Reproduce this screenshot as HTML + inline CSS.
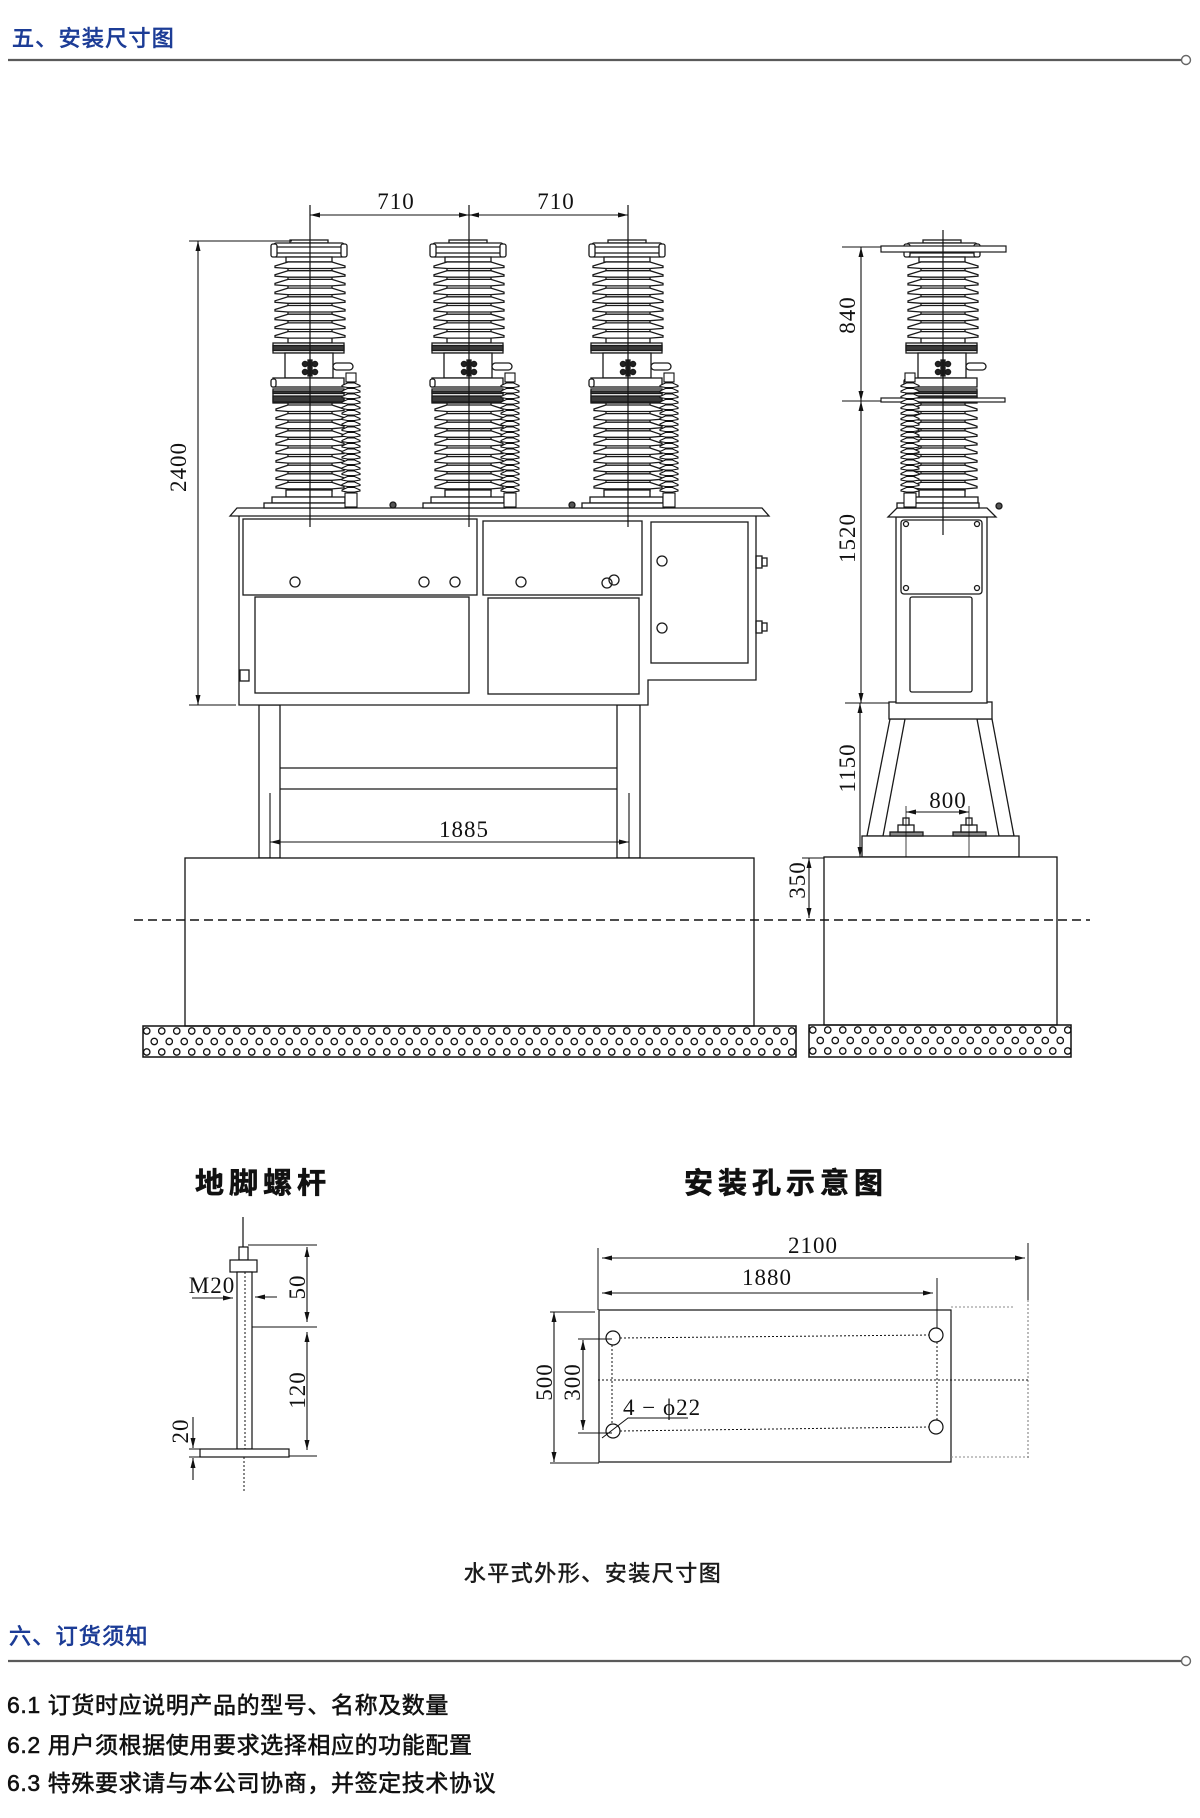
<!DOCTYPE html>
<html><head><meta charset="utf-8"><style>
html,body{margin:0;padding:0;background:#fff;}
svg{display:block;}
.d{font-family:"Liberation Serif",serif;font-size:23px;fill:#111;letter-spacing:1px;}
.c{font-family:"Liberation Sans","Noto Sans CJK SC",sans-serif;}
</style></head><body>
<svg width="1200" height="1818" viewBox="0 0 1200 1818" xmlns="http://www.w3.org/2000/svg" xmlns:xlink="http://www.w3.org/1999/xlink">
<defs>
<marker id="ar" viewBox="0 0 10 5" refX="10" refY="2.5" markerWidth="10" markerHeight="5" orient="auto-start-reverse" markerUnits="userSpaceOnUse"><path d="M0,0 L10,2.5 L0,5 z" fill="#111"/></marker>
<pattern id="hf" x="143" y="1026" width="15" height="21" patternUnits="userSpaceOnUse"><circle cx="3.75" cy="5" r="3.2" fill="none" stroke="#111" stroke-width="1.3"/><circle cx="11.25" cy="15.5" r="3.2" fill="none" stroke="#111" stroke-width="1.3"/></pattern>
<pattern id="hs" x="809" y="1025" width="15" height="21" patternUnits="userSpaceOnUse"><circle cx="3.75" cy="5" r="3.2" fill="none" stroke="#111" stroke-width="1.3"/><circle cx="11.25" cy="15.5" r="3.2" fill="none" stroke="#111" stroke-width="1.3"/></pattern>
<g id="ins" stroke="#1a1a1a" stroke-width="1.3" fill="#fff">
 <rect x="-20" y="240" width="38" height="3"/>
 <rect x="-36" y="243" width="70" height="14" rx="2"/>
 <line x1="-36" y1="247" x2="34" y2="247"/>
 <line x1="-36" y1="253" x2="34" y2="253"/>
 <rect x="-39" y="244" width="6" height="13" rx="2"/>
 <rect x="31" y="244" width="6" height="13" rx="2"/>
 <rect x="-24" y="257" width="46" height="5"/>
 <rect x="-22" y="262" width="44" height="81"/>
 <path d="M-22 262L-35 266L-35 267.5L-22 268.5H22L35 267.5L35 266L22 262Z M-22 270.7L-35 274.7L-35 276.2L-22 277.2H22L35 276.2L35 274.7L22 270.7Z M-22 279.4L-35 283.4L-35 284.9L-22 285.9H22L35 284.9L35 283.4L22 279.4Z M-22 288.1L-35 292.1L-35 293.6L-22 294.6H22L35 293.6L35 292.1L22 288.1Z M-22 296.8L-35 300.8L-35 302.3L-22 303.3H22L35 302.3L35 300.8L22 296.8Z M-22 305.5L-35 309.5L-35 311L-22 312H22L35 311L35 309.5L22 305.5Z M-22 314.2L-35 318.2L-35 319.7L-22 320.7H22L35 319.7L35 318.2L22 314.2Z M-22 322.9L-35 326.9L-35 328.4L-22 329.4H22L35 328.4L35 326.9L22 322.9Z M-22 331.6L-35 335.6L-35 337.1L-22 338.1H22L35 337.1L35 335.6L22 331.6Z"/>
 <rect x="-37" y="343" width="71" height="10"/>
 <rect x="-37" y="345.5" width="71" height="5" fill="#3a3a3a"/>
 <rect x="-25" y="353" width="48" height="25"/>
 <rect x="-2" y="360" width="4" height="16" fill="#222"/>
 <circle cx="-5" cy="364" r="2.6" fill="#222"/><circle cx="5" cy="364" r="2.6" fill="#222"/>
 <circle cx="-5" cy="372" r="2.6" fill="#222"/><circle cx="5" cy="372" r="2.6" fill="#222"/>
 <rect x="23" y="363" width="20" height="7" rx="3.5"/>
 <rect x="-37" y="378" width="71" height="9"/>
 <rect x="-39" y="379" width="5" height="8" rx="2"/>
 <rect x="-37" y="389" width="71" height="14"/>
 <rect x="-37" y="391" width="71" height="2.5" fill="#3a3a3a"/>
 <rect x="-37" y="396" width="71" height="6" fill="#3a3a3a"/>
 <rect x="-22" y="403" width="44" height="88"/>
 <path d="M-22 405L-34 409L-34 410.5L-22 411.5H22L34 410.5L34 409L22 405Z M-22 413.6L-34 417.6L-34 419.1L-22 420.1H22L34 419.1L34 417.6L22 413.6Z M-22 422.2L-34 426.2L-34 427.7L-22 428.7H22L34 427.7L34 426.2L22 422.2Z M-22 430.8L-34 434.8L-34 436.3L-22 437.3H22L34 436.3L34 434.8L22 430.8Z M-22 439.4L-34 443.4L-34 444.9L-22 445.9H22L34 444.9L34 443.4L22 439.4Z M-22 448L-34 452L-34 453.5L-22 454.5H22L34 453.5L34 452L22 448Z M-22 456.6L-34 460.6L-34 462.1L-22 463.1H22L34 462.1L34 460.6L22 456.6Z M-22 465.2L-34 469.2L-34 470.7L-22 471.7H22L34 470.7L34 469.2L22 465.2Z M-22 473.8L-34 477.8L-34 479.3L-22 480.3H22L34 479.3L34 477.8L22 473.8Z M-22 482.4L-34 486.4L-34 487.9L-22 488.9H22L34 487.9L34 486.4L22 482.4Z"/>
 <rect x="-24" y="490" width="46" height="7"/>
 <rect x="-38" y="497" width="73" height="6"/>
 <rect x="-46" y="503" width="82" height="5"/>
</g>
<g id="arr" stroke="#111" stroke-width="1.1" fill="#fff">
 <rect x="-5" y="373" width="10" height="9"/>
 <rect x="-3.5" y="382" width="7" height="111"/>
 <path d="M-3.5 383L-9 385.5L-9 386.5L-3.5 387.5H3.5L9 386.5L9 385.5L3.5 383Z M-3.5 388.5L-9 391L-9 392L-3.5 393H3.5L9 392L9 391L3.5 388.5Z M-3.5 394L-9 396.5L-9 397.5L-3.5 398.5H3.5L9 397.5L9 396.5L3.5 394Z M-3.5 399.5L-9 402L-9 403L-3.5 404H3.5L9 403L9 402L3.5 399.5Z M-3.5 405L-9 407.5L-9 408.5L-3.5 409.5H3.5L9 408.5L9 407.5L3.5 405Z M-3.5 410.5L-9 413L-9 414L-3.5 415H3.5L9 414L9 413L3.5 410.5Z M-3.5 416L-9 418.5L-9 419.5L-3.5 420.5H3.5L9 419.5L9 418.5L3.5 416Z M-3.5 421.5L-9 424L-9 425L-3.5 426H3.5L9 425L9 424L3.5 421.5Z M-3.5 427L-9 429.5L-9 430.5L-3.5 431.5H3.5L9 430.5L9 429.5L3.5 427Z M-3.5 432.5L-9 435L-9 436L-3.5 437H3.5L9 436L9 435L3.5 432.5Z M-3.5 438L-9 440.5L-9 441.5L-3.5 442.5H3.5L9 441.5L9 440.5L3.5 438Z M-3.5 443.5L-9 446L-9 447L-3.5 448H3.5L9 447L9 446L3.5 443.5Z M-3.5 449L-9 451.5L-9 452.5L-3.5 453.5H3.5L9 452.5L9 451.5L3.5 449Z M-3.5 454.5L-9 457L-9 458L-3.5 459H3.5L9 458L9 457L3.5 454.5Z M-3.5 460L-9 462.5L-9 463.5L-3.5 464.5H3.5L9 463.5L9 462.5L3.5 460Z M-3.5 465.5L-9 468L-9 469L-3.5 470H3.5L9 469L9 468L3.5 465.5Z M-3.5 471L-9 473.5L-9 474.5L-3.5 475.5H3.5L9 474.5L9 473.5L3.5 471Z M-3.5 476.5L-9 479L-9 480L-3.5 481H3.5L9 480L9 479L3.5 476.5Z M-3.5 482L-9 484.5L-9 485.5L-3.5 486.5H3.5L9 485.5L9 484.5L3.5 482Z M-3.5 487.5L-9 490L-9 491L-3.5 492H3.5L9 491L9 490L3.5 487.5Z"/>
 <rect x="-6" y="493" width="12" height="14"/>
</g>
</defs>

<rect width="1200" height="1818" fill="#fff"/>

<!-- Header 1 -->
<text class="c" x="12" y="46" font-size="22" fill="#1c3c96" stroke="#1c3c96" stroke-width="0.7" letter-spacing="1.3">五、安装尺寸图</text>
<line x1="8" y1="60" x2="1181" y2="60" stroke="#5a5a5a" stroke-width="2.2"/>
<circle cx="1186" cy="60" r="4.5" fill="#fff" stroke="#666" stroke-width="1.4"/>

<!-- ============ FRONT VIEW ============ -->
<g stroke="#1a1a1a" stroke-width="1.3" fill="none">
 <rect x="259" y="705" width="21" height="153" fill="#fff"/>
 <rect x="617" y="705" width="23" height="153" fill="#fff"/>
 <line x1="280" y1="768" x2="617" y2="768"/>
 <line x1="280" y1="789" x2="617" y2="789"/>
 <path d="M239,516 V705 H648 V680 H756 V516" fill="#fff"/>
 <polygon points="230,516 237,508 762,508 769,516" fill="#fff"/>
 <rect x="243" y="519" width="234" height="76"/>
 <rect x="483" y="521" width="159" height="74"/>
 <rect x="255" y="597" width="214" height="96"/>
 <rect x="488" y="598" width="151" height="96"/>
 <rect x="651" y="522" width="97" height="141"/>
 <circle cx="295" cy="582" r="5"/><circle cx="424" cy="582" r="5"/><circle cx="455" cy="582" r="5"/>
 <circle cx="521" cy="582" r="5"/><circle cx="607" cy="583" r="5"/><circle cx="614" cy="580" r="5"/>
 <circle cx="662" cy="561" r="5"/><circle cx="662" cy="628" r="5"/>
 <rect x="756" y="556" width="6" height="12"/><rect x="762" y="558" width="5" height="8"/>
 <rect x="756" y="621" width="6" height="12"/><rect x="762" y="623" width="5" height="8"/>
 <rect x="240" y="670" width="9" height="11"/>
 <circle cx="393" cy="505" r="3" fill="#555"/><circle cx="572" cy="505" r="3" fill="#555"/>
</g>
<use xlink:href="#ins" href="#ins" x="310"/>
<use xlink:href="#ins" href="#ins" x="469"/>
<use xlink:href="#ins" href="#ins" x="628"/>
<use xlink:href="#arr" href="#arr" x="351"/>
<use xlink:href="#arr" href="#arr" x="510"/>
<use xlink:href="#arr" href="#arr" x="669"/>
<g stroke="#111" stroke-width="1.2">
 <line x1="310" y1="205" x2="310" y2="527"/>
 <line x1="469" y1="205" x2="469" y2="527"/>
 <line x1="628" y1="205" x2="628" y2="527"/>
</g>
<g stroke="#111" stroke-width="1.1" fill="none">
 <line x1="310" y1="215" x2="469" y2="215" marker-start="url(#ar)" marker-end="url(#ar)"/>
 <line x1="469" y1="215" x2="628" y2="215" marker-start="url(#ar)" marker-end="url(#ar)"/>
 <line x1="189" y1="241" x2="292" y2="241"/>
 <line x1="189" y1="705" x2="236" y2="705"/>
 <line x1="198" y1="241" x2="198" y2="705" marker-start="url(#ar)" marker-end="url(#ar)"/>
 <line x1="270" y1="793" x2="270" y2="863"/>
 <line x1="629" y1="793" x2="629" y2="863"/>
 <line x1="270" y1="842" x2="629" y2="842" marker-start="url(#ar)" marker-end="url(#ar)"/>
</g>
<text class="d" x="396" y="209" text-anchor="middle">710</text>
<text class="d" x="556" y="209" text-anchor="middle">710</text>
<text class="d" transform="translate(178,467) rotate(-90)" x="0" y="8" text-anchor="middle">2400</text>
<text class="d" x="464" y="837" text-anchor="middle">1885</text>

<rect x="185" y="858" width="569" height="168" fill="#fff" stroke="#111" stroke-width="1.3"/>
<rect x="143" y="1026" width="653" height="31" fill="url(#hf)" stroke="#111" stroke-width="1.5"/>

<!-- ============ SIDE VIEW ============ -->
<g stroke="#1a1a1a" stroke-width="1.3" fill="#fff">
 <polygon points="890,719 905,719 883,836 867,836"/>
 <polygon points="977,719 992,719 1014,836 999,836"/>
 <rect x="889" y="702" width="103" height="17"/>
 <rect x="862" y="836" width="157" height="21"/>
 <rect x="896" y="517" width="91" height="186"/>
 <polygon points="888,517 897,508 987,508 996,517"/>
 <rect x="901" y="520" width="81" height="74" rx="3"/>
 <rect x="910" y="597" width="62" height="95" rx="2"/>
 <circle cx="906" cy="524" r="2.5"/><circle cx="977" cy="524" r="2.5"/>
 <circle cx="906" cy="588" r="2.5"/><circle cx="977" cy="588" r="2.5"/>
 <circle cx="999" cy="506" r="3" fill="#555"/>
 <rect x="890" y="832" width="33" height="4" fill="#888"/>
 <rect x="898" y="825" width="16" height="7"/>
 <rect x="903" y="818" width="6" height="7"/>
 <rect x="953" y="832" width="33" height="4" fill="#888"/>
 <rect x="961" y="825" width="16" height="7"/>
 <rect x="966" y="818" width="6" height="7"/>
</g>
<use xlink:href="#ins" href="#ins" x="943"/>
<g stroke="#1a1a1a" stroke-width="1.2" fill="#fff">
 <rect x="881" y="246" width="125" height="6"/>
 <rect x="881" y="398" width="124" height="4"/>
</g>
<use xlink:href="#arr" href="#arr" x="910"/>
<line x1="943" y1="230" x2="943" y2="535" stroke="#111" stroke-width="1.2"/>
<g stroke="#111" stroke-width="1.1" fill="none">
 <line x1="842" y1="247" x2="881" y2="247"/>
 <line x1="842" y1="401" x2="881" y2="401"/>
 <line x1="845" y1="703" x2="889" y2="703"/>
 <line x1="861" y1="247" x2="861" y2="401" marker-start="url(#ar)" marker-end="url(#ar)"/>
 <line x1="861" y1="401" x2="861" y2="703" marker-start="url(#ar)" marker-end="url(#ar)"/>
 <line x1="860" y1="703" x2="860" y2="857" marker-start="url(#ar)" marker-end="url(#ar)"/>
 <line x1="802" y1="858" x2="824" y2="858"/>
 <line x1="809" y1="858" x2="809" y2="918" marker-start="url(#ar)" marker-end="url(#ar)"/>
 <line x1="906" y1="806" x2="906" y2="867" stroke-width="0.8"/>
 <line x1="969" y1="806" x2="969" y2="867" stroke-width="0.8"/>
 <line x1="906" y1="812" x2="969" y2="812" marker-start="url(#ar)" marker-end="url(#ar)"/>
</g>
<text class="d" transform="translate(847,315) rotate(-90)" x="0" y="8" text-anchor="middle">840</text>
<text class="d" transform="translate(847,538) rotate(-90)" x="0" y="8" text-anchor="middle">1520</text>
<text class="d" transform="translate(847,768) rotate(-90)" x="0" y="8" text-anchor="middle">1150</text>
<text class="d" transform="translate(797,880) rotate(-90)" x="0" y="8" text-anchor="middle">350</text>
<text class="d" x="948" y="808" text-anchor="middle">800</text>

<rect x="824" y="857" width="233" height="168" fill="#fff" stroke="#111" stroke-width="1.3"/>
<rect x="809" y="1025" width="262" height="32" fill="url(#hs)" stroke="#111" stroke-width="1.5"/>

<line x1="134" y1="920" x2="1090" y2="920" stroke="#111" stroke-width="1.5" stroke-dasharray="9 5"/>

<!-- ============ ANCHOR BOLT ============ -->
<text class="c" x="263" y="1193" font-size="29" font-weight="bold" fill="#111" stroke="#111" stroke-width="0.6" letter-spacing="5" text-anchor="middle">地脚螺杆</text>
<g stroke="#111" stroke-width="1.2" fill="#fff">
 <line x1="243" y1="1217" x2="243" y2="1247"/>
 <rect x="239" y="1247" width="9" height="13"/>
 <rect x="230" y="1260" width="27" height="12"/>
 <rect x="237" y="1272" width="15" height="177"/>
 <rect x="200" y="1449" width="89" height="8"/>
 <line x1="245" y1="1272" x2="245" y2="1449" stroke-dasharray="2 2" stroke-width="1"/>
 <line x1="244" y1="1457" x2="244" y2="1493" stroke-dasharray="2 2" stroke-width="1"/>
 <line x1="248" y1="1245" x2="317" y2="1245" stroke-width="1"/>
 <line x1="252" y1="1327" x2="317" y2="1327" stroke-width="1"/>
 <line x1="289" y1="1456" x2="317" y2="1456" stroke-width="1"/>
 <line x1="307" y1="1247" x2="307" y2="1322" stroke-width="1.1" marker-start="url(#ar)" marker-end="url(#ar)"/>
 <line x1="307" y1="1332" x2="307" y2="1450" stroke-width="1.1" marker-start="url(#ar)" marker-end="url(#ar)"/>
 <line x1="192" y1="1298" x2="233" y2="1298" stroke-width="1.1" marker-end="url(#ar)"/>
 <line x1="277" y1="1297" x2="255" y2="1297" stroke-width="1.1" marker-end="url(#ar)"/>
 <line x1="189" y1="1449" x2="200" y2="1449" stroke-width="1"/>
 <line x1="189" y1="1457" x2="200" y2="1457" stroke-width="1"/>
 <line x1="193" y1="1417" x2="193" y2="1448" stroke-width="1.1" marker-end="url(#ar)"/>
 <line x1="193" y1="1480" x2="193" y2="1458" stroke-width="1.1" marker-end="url(#ar)"/>
</g>
<text class="d" x="212" y="1293" text-anchor="middle" font-size="21">M20</text>
<text class="d" transform="translate(297,1287) rotate(-90)" x="0" y="8" text-anchor="middle">50</text>
<text class="d" transform="translate(297,1390) rotate(-90)" x="0" y="8" text-anchor="middle">120</text>
<text class="d" transform="translate(180,1431) rotate(-90)" x="0" y="8" text-anchor="middle">20</text>

<!-- ============ MOUNTING HOLES ============ -->
<text class="c" x="786" y="1193" font-size="29" font-weight="bold" fill="#111" stroke="#111" stroke-width="0.6" letter-spacing="5" text-anchor="middle">安装孔示意图</text>
<g stroke="#111" stroke-width="1.2" fill="none">
 <rect x="599" y="1310" width="352" height="152" fill="#fff"/>
 <line x1="598" y1="1248" x2="598" y2="1310" stroke-width="1"/>
 <line x1="1028" y1="1243" x2="1028" y2="1300" stroke-width="1"/>
 <line x1="1028" y1="1300" x2="1028" y2="1458" stroke="#777" stroke-width="1" stroke-dasharray="2 2"/>
 <line x1="602" y1="1258" x2="1025" y2="1258" stroke-width="1.1" marker-start="url(#ar)" marker-end="url(#ar)"/>
 <line x1="937" y1="1278" x2="937" y2="1328" stroke-width="1"/>
 <line x1="602" y1="1293" x2="933" y2="1293" stroke-width="1.1" marker-start="url(#ar)" marker-end="url(#ar)"/>
 <line x1="951" y1="1307" x2="1013" y2="1307" stroke="#888" stroke-width="1" stroke-dasharray="2 2"/>
 <line x1="598" y1="1380" x2="1030" y2="1380" stroke-width="1" stroke-dasharray="2 2"/>
 <line x1="951" y1="1457" x2="1030" y2="1457" stroke="#888" stroke-width="1" stroke-dasharray="2 2"/>
 <line x1="620" y1="1338" x2="929" y2="1335" stroke-width="1" stroke-dasharray="2 2"/>
 <line x1="620" y1="1431" x2="929" y2="1427" stroke-width="1" stroke-dasharray="2 2"/>
 <line x1="612" y1="1345" x2="612" y2="1424" stroke-width="1" stroke-dasharray="2 2"/>
 <line x1="937" y1="1342" x2="937" y2="1420" stroke-width="1" stroke-dasharray="2 2"/>
 <circle cx="613" cy="1338" r="7"/>
 <circle cx="936" cy="1335" r="7"/>
 <circle cx="613" cy="1431" r="7"/>
 <circle cx="936" cy="1427" r="7"/>
 <line x1="550" y1="1312" x2="595" y2="1312" stroke-width="1"/>
 <line x1="550" y1="1463" x2="599" y2="1463" stroke-width="1"/>
 <line x1="554" y1="1312" x2="554" y2="1462" stroke-width="1.1" marker-start="url(#ar)" marker-end="url(#ar)"/>
 <line x1="578" y1="1339" x2="612" y2="1339" stroke-width="1"/>
 <line x1="578" y1="1433" x2="612" y2="1433" stroke-width="1"/>
 <line x1="583" y1="1340" x2="583" y2="1430" stroke-width="1.1" marker-start="url(#ar)" marker-end="url(#ar)"/>
 <polyline points="688,1418 628,1418 602,1438" stroke-width="1"/>
</g>
<text class="d" x="813" y="1253" text-anchor="middle">2100</text>
<text class="d" x="767" y="1285" text-anchor="middle">1880</text>
<text class="d" x="623" y="1415">4 − ϕ22</text>
<text class="d" transform="translate(544,1382) rotate(-90)" x="0" y="8" text-anchor="middle">500</text>
<text class="d" transform="translate(572,1382) rotate(-90)" x="0" y="8" text-anchor="middle">300</text>

<!-- caption -->
<text class="c" x="593" y="1581" font-size="22" fill="#1a1a1a" stroke="#1a1a1a" stroke-width="0.5" letter-spacing="1.5" text-anchor="middle">水平式外形、安装尺寸图</text>

<!-- Header 2 -->
<text class="c" x="9" y="1644" font-size="22" fill="#1c3c96" stroke="#1c3c96" stroke-width="0.7" letter-spacing="1.3">六、订货须知</text>
<line x1="8" y1="1661" x2="1181" y2="1661" stroke="#5a5a5a" stroke-width="2.2"/>
<circle cx="1186" cy="1661" r="4.5" fill="#fff" stroke="#666" stroke-width="1.4"/>

<g class="c" font-size="23" fill="#111" letter-spacing="0.6" stroke="#111" stroke-width="0.55">
 <text x="7" y="1713">6.1 订货时应说明产品的型号、名称及数量</text>
 <text x="7" y="1753">6.2 用户须根据使用要求选择相应的功能配置</text>
 <text x="7" y="1791">6.3 特殊要求请与本公司协商，并签定技术协议</text>
</g>
</svg>
</body></html>
